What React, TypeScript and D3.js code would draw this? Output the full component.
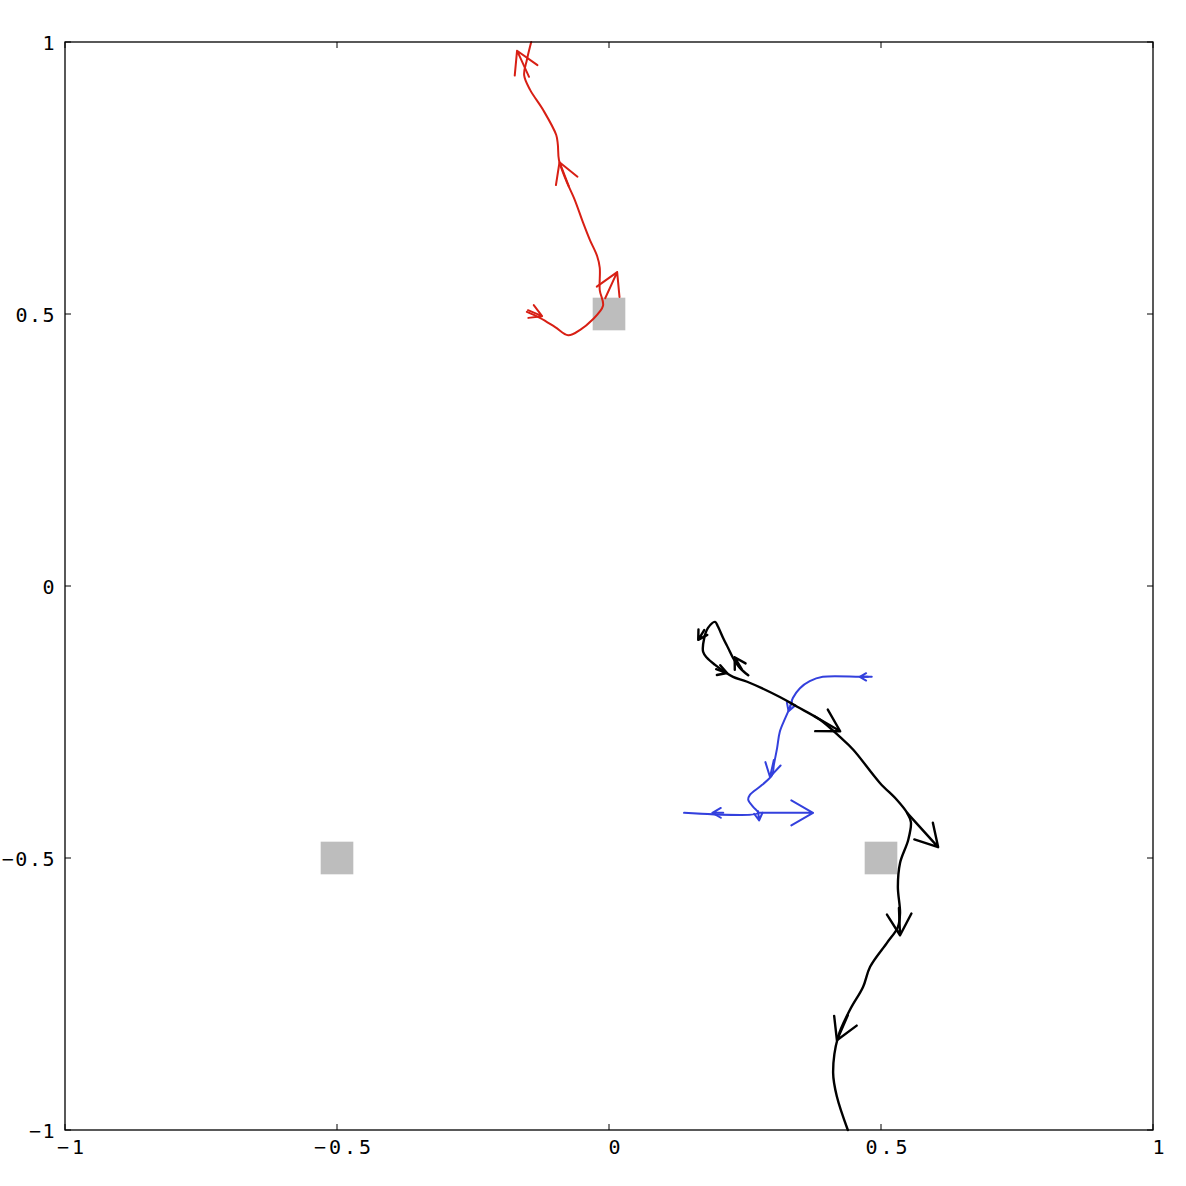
import React, { useEffect } from "react";
import * as d3 from "d3";

type P = [number, number];
type Q = { x: number; y: number; u: number; v: number };

const tickValues = [-1, -0.5, 0, 0.5, 1];
const tickLabels = ["−1", "−0.5", "0", "0.5", "1"];

const squares: P[] = [
  [-0.5, -0.5],
  [0.5, -0.5],
  [0, 0.5],
];
const squareSize = 0.06;

const redPath: P[] = [
  [-0.151, 0.504], [-0.127, 0.493], [-0.099, 0.476], [-0.075, 0.461], [-0.053, 0.471],
  [-0.031, 0.489], [-0.011, 0.515], [-0.017, 0.544], [-0.017, 0.585], [-0.022, 0.607],
  [-0.035, 0.636], [-0.048, 0.669], [-0.063, 0.71], [-0.079, 0.746], [-0.092, 0.783],
  [-0.094, 0.811], [-0.097, 0.829], [-0.121, 0.875], [-0.145, 0.912], [-0.156, 0.939],
  [-0.151, 0.967], [-0.143, 1.0],
];
const redArrows: Q[] = [
  { x: -0.149, y: 0.507, u: 0.026, v: -0.011 },
  { x: -0.007, y: 0.529, u: 0.022, v: 0.048 },
  { x: -0.074, y: 0.735, u: -0.017, v: 0.044 },
  { x: -0.147, y: 0.936, u: -0.022, v: 0.048 },
];

const blackPath: P[] = [
  [0.256, -0.164], [0.241, -0.151], [0.228, -0.132], [0.219, -0.114], [0.21, -0.096],
  [0.2, -0.074], [0.195, -0.066], [0.182, -0.077], [0.175, -0.096], [0.173, -0.121],
  [0.18, -0.132], [0.195, -0.145], [0.21, -0.156], [0.228, -0.167], [0.254, -0.176],
  [0.314, -0.204], [0.346, -0.222], [0.388, -0.246], [0.425, -0.278], [0.449, -0.301],
  [0.498, -0.362], [0.529, -0.393], [0.548, -0.417], [0.555, -0.434], [0.55, -0.467],
  [0.535, -0.509], [0.531, -0.553], [0.535, -0.601], [0.531, -0.627], [0.511, -0.656],
  [0.48, -0.7], [0.467, -0.737], [0.443, -0.779], [0.421, -0.829], [0.412, -0.895],
  [0.419, -0.939], [0.439, -1.0],
];
const blackArrows: Q[] = [
  { x: 0.175, y: -0.081, u: -0.011, v: -0.018 },
  { x: 0.197, y: -0.153, u: 0.02, v: -0.007 },
  { x: 0.244, y: -0.153, u: -0.013, v: 0.022 },
  { x: 0.377, y: -0.239, u: 0.048, v: -0.028 },
  { x: 0.548, y: -0.417, u: 0.057, v: -0.063 },
  { x: 0.533, y: -0.592, u: 0.002, v: -0.05 },
  { x: 0.439, y: -0.789, u: -0.02, v: -0.046 },
];

const bluePath: P[] = [
  [0.483, -0.167], [0.461, -0.167], [0.393, -0.167], [0.369, -0.175], [0.351, -0.188],
  [0.338, -0.206], [0.333, -0.222], [0.324, -0.243], [0.314, -0.268], [0.309, -0.298],
  [0.303, -0.329], [0.3, -0.347], [0.281, -0.366], [0.259, -0.384], [0.256, -0.393],
  [0.265, -0.406], [0.274, -0.417], [0.138, -0.417],
];
const blueArrows: Q[] = [
  { x: 0.476, y: -0.167, u: -0.015, v: 0 },
  { x: 0.336, y: -0.213, u: -0.006, v: -0.017 },
  { x: 0.303, y: -0.32, u: -0.007, v: -0.031 },
  { x: 0.274, y: -0.414, u: 0.002, v: -0.017 },
  { x: 0.21, y: -0.417, u: -0.02, v: 0 },
  { x: 0.274, y: -0.417, u: 0.101, v: 0 },
];

const W = 1186;
const H = 1186;
const x = d3.scaleLinear().domain([-1, 1]).range([65, 1153]);
const y = d3.scaleLinear().domain([-1, 1]).range([1130, 42]);

const series = [
  { path: redPath, arrows: redArrows, color: "#d81f14", width: 2 },
  { path: bluePath, arrows: blueArrows, color: "#3340dd", width: 2 },
  { path: blackPath, arrows: blackArrows, color: "#000000", width: 2.4 },
];

const line = d3
  .line<P>()
  .x((d) => x(d[0]))
  .y((d) => y(d[1]))
  .curve(d3.curveCatmullRom.alpha(0.5));

function arrowPath(a: Q): string {
  const x0 = x(a.x);
  const y0 = y(a.y);
  const x1 = x(a.x + a.u);
  const y1 = y(a.y + a.v);
  const dx = x1 - x0;
  const dy = y1 - y0;
  const len = Math.hypot(dx, dy);
  const head = Math.min(25, len * 0.9);
  const ang = Math.atan2(dy, dx);
  const half = (30 * Math.PI) / 180;
  const ax1 = x1 - head * Math.cos(ang - half);
  const ay1 = y1 - head * Math.sin(ang - half);
  const ax2 = x1 - head * Math.cos(ang + half);
  const ay2 = y1 - head * Math.sin(ang + half);
  return `M${x0},${y0}L${x1},${y1}M${ax1},${ay1}L${x1},${y1}L${ax2},${ay2}`;
}

export default function App() {
  useEffect(() => {
    document.body.style.margin = "0";
  }, []);
  const font = "'DejaVu Sans Mono', monospace";
  const tl = 6;
  return (
    <svg
      width={W}
      height={H}
      style={{ display: "block", position: "absolute", left: 0, top: 0, background: "#fff" }}
    >
      <rect x={0} y={0} width={W} height={H} fill="#fff" />
      {squares.map((s, i) => (
        <rect
          key={i}
          x={x(s[0] - squareSize / 2)}
          y={y(s[1] + squareSize / 2)}
          width={x(s[0] + squareSize / 2) - x(s[0] - squareSize / 2)}
          height={y(s[1] - squareSize / 2) - y(s[1] + squareSize / 2)}
          fill="#bdbdbd"
        />
      ))}
      {series.map((s, i) => (
        <g key={i} fill="none" stroke={s.color} strokeWidth={s.width} strokeLinejoin="round" strokeLinecap="round">
          <path d={line(s.path) || ""} />
          {s.arrows.map((a, j) => (
            <path key={j} d={arrowPath(a)} />
          ))}
        </g>
      ))}
      <rect
        x={x(-1)}
        y={y(1)}
        width={x(1) - x(-1)}
        height={y(-1) - y(1)}
        fill="none"
        stroke="#000"
        strokeWidth={1.3}
      />
      <g stroke="#000" strokeWidth={1}>
        {tickValues.map((t, i) => (
          <g key={i}>
            <line x1={x(t)} x2={x(t)} y1={y(-1)} y2={y(-1) - tl} />
            <line x1={x(t)} x2={x(t)} y1={y(1)} y2={y(1) + tl} />
            <line x1={x(-1)} x2={x(-1) + tl} y1={y(t)} y2={y(t)} />
            <line x1={x(1)} x2={x(1) - tl} y1={y(t)} y2={y(t)} />
          </g>
        ))}
      </g>
      <g fontFamily={font} fontSize={20} fill="#000">
        {tickValues.map((t, i) => (
          <text key={"x" + i} x={x(t) + 7} y={y(-1) + 24} textAnchor="middle" style={{ letterSpacing: "3px" }}>
            {tickLabels[i]}
          </text>
        ))}
        {tickValues.map((t, i) => (
          <text key={"y" + i} x={56} y={y(t) + 8} textAnchor="end" style={{ letterSpacing: "1.5px" }}>
            {tickLabels[i]}
          </text>
        ))}
      </g>
    </svg>
  );
}
